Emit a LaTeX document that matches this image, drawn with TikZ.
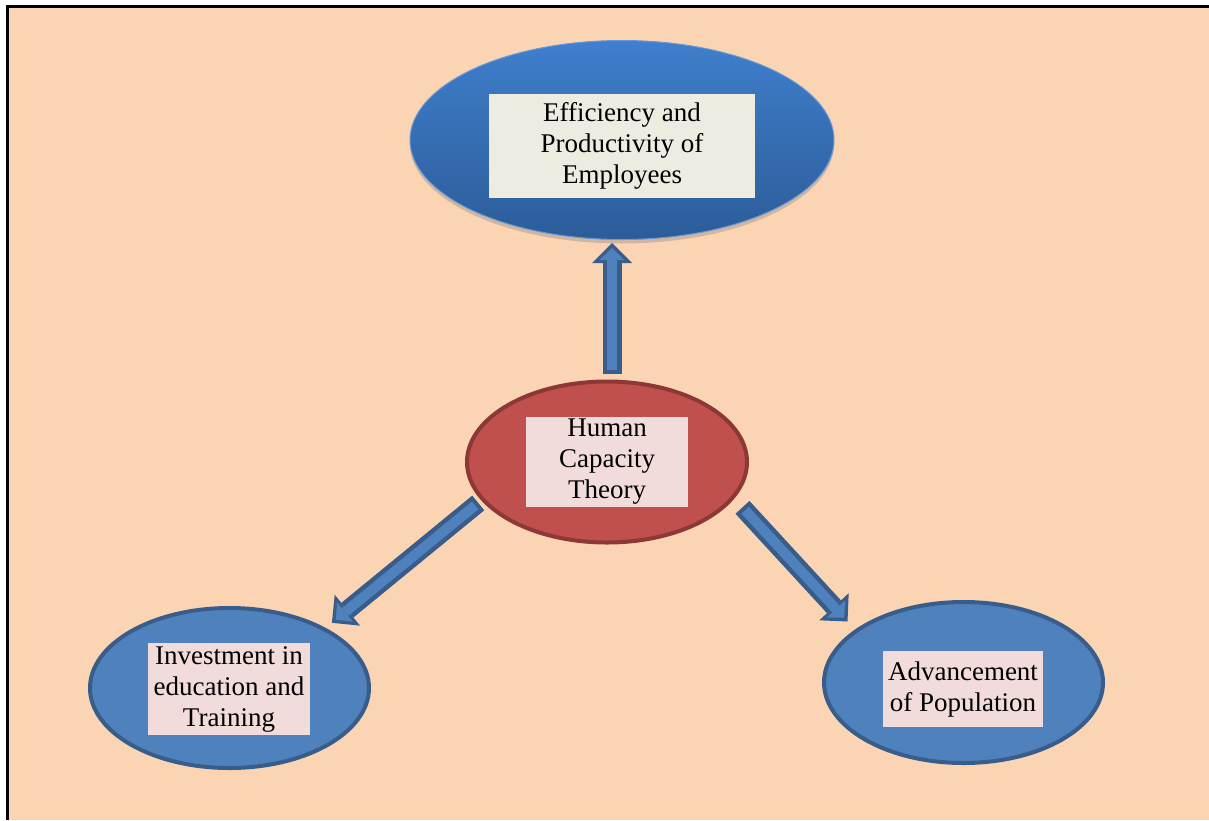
\documentclass[tikz,border=0pt]{standalone}
\usepackage{fontspec}
\setmainfont{Liberation Serif}
\usetikzlibrary{shapes.geometric,arrows.meta,shadows}

\definecolor{peach}{HTML}{FBD4B4}
\definecolor{bluefill}{HTML}{4F81BD}
\definecolor{blueedge}{HTML}{385D8A}
\definecolor{redfill}{HTML}{C0504D}
\definecolor{rededge}{HTML}{8C3836}
\definecolor{topblue}{HTML}{3F7FCD}
\definecolor{botblue}{HTML}{2C5C98}
\definecolor{creambox}{HTML}{EEECE1}
\definecolor{pinkbox}{HTML}{F2DCDB}

\begin{document}
\begin{tikzpicture}[x=1pt, y=-1pt,
        oval/.style = {ellipse, inner sep=0pt, line width=4pt},
        textbox/.style = {inner sep=0pt, align=center, font=\fontsize{27}{31}\selectfont},
        arrow out/.style = {draw=blueedge, line width=19pt, -{Triangle[width=40pt,length=20pt,line width=0pt]}},
        arrow in/.style = {draw=bluefill, line width=10pt, -{Triangle[width=25pt,length=12pt,line width=0pt]}}]
                   \useasboundingbox (0,0) rectangle (1209,820);
                   \fill[peach] (7.5,6.5) rectangle (1209,820);
                   \draw[line width=2.5pt] (7.5,820) -- (7.5,6.5) -- (1209,6.5);

                   % the four ovals
                   \node[ellipse, inner sep=0pt, minimum width=424pt, minimum height=199pt,
                         top color=topblue, bottom color=botblue, draw=topblue!80!white, line width=1pt,
                         drop shadow={shadow xshift=0pt, shadow yshift=-4pt, opacity=0.35}] (eff) at (622,140) {};
                   \node[oval, minimum width=280pt, minimum height=161pt, fill=redfill, draw=rededge] (hct) at (607,462) {};
                   \node[oval, minimum width=279pt, minimum height=160pt, fill=bluefill, draw=blueedge] (inv) at (229.5,688) {};
                   \node[oval, minimum width=279pt, minimum height=161pt, fill=bluefill, draw=blueedge] (adv) at (963.5,682.5) {};

                   % labels
                   \node[textbox, fill=creambox, minimum width=266pt, minimum height=104pt] (effText) at (622,146)
                        {Efficiency and\\Productivity of\\Employees};
                   \node[textbox, fill=pinkbox, minimum width=162pt, minimum height=90pt] (hctText) at (607,462)
                        {Human\\Capacity\\Theory};
                   \node[textbox, fill=pinkbox, minimum width=162pt, minimum height=92pt] (invText) at (229,689)
                        {Investment in\\education and\\Training};
                   \node[textbox, fill=pinkbox, minimum width=160pt, minimum height=76pt] (advText) at (963,689)
                        {Advancement\\of Population};

                   % block arrows
                   \draw[arrow out] ([xshift=5pt,yshift=6pt]hct.north) -- ([xshift=-10pt,yshift=-3pt]eff.south);
                   \draw[arrow in, shorten <=4pt, shorten >=5pt] ([xshift=5pt,yshift=6pt]hct.north) -- ([xshift=-10pt,yshift=-3pt]eff.south);

                   \draw[arrow out, shorten <=4pt, shorten >=8pt] (hct.197) -- (inv.32);
                   \draw[arrow in, shorten <=8pt, shorten >=13pt] (hct.197) -- (inv.32);

                   \draw[arrow out, shorten <=12pt, shorten >=11pt] (hct.344) -- (adv.154);
                   \draw[arrow in, shorten <=16pt, shorten >=16pt] (hct.344) -- (adv.154);
        \end{tikzpicture}
\end{document}
